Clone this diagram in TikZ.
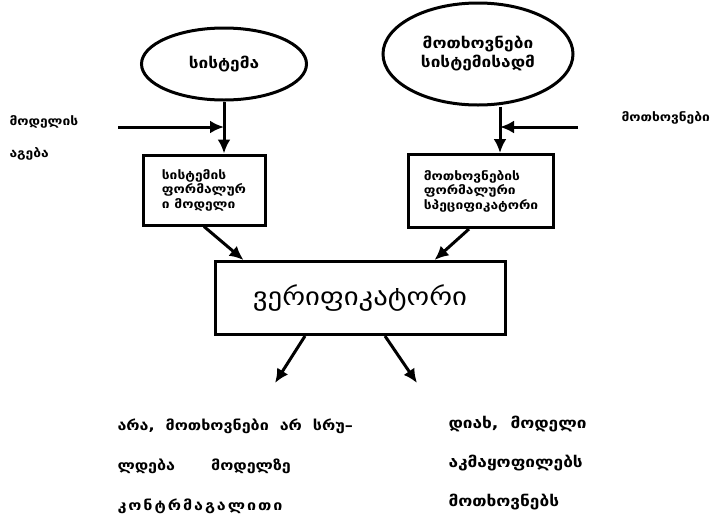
\documentclass[tikz,border=0pt]{standalone}
\usepackage{fontspec}
\setmainfont{DejaVu Sans}[FakeStretch=1.15]
\usetikzlibrary{arrows.meta,shapes.geometric,positioning}

\begin{document}
\begin{tikzpicture}[x=1pt,y=-1pt,->,>={Latex[length=14pt,width=13pt]},line width=3pt,
                    font=\bfseries\fontsize{12}{14.5}\selectfont]
  \tikzstyle{oval}=[ellipse,draw,line width=3pt,inner sep=0pt,
                    font=\bfseries\fontsize{15}{19}\selectfont]
  \tikzstyle{blk}=[rectangle,draw,line width=3pt,align=left,inner sep=0pt]
  \tikzstyle{txt}=[anchor=west,inner sep=0pt,align=left]

  \useasboundingbox (0,0) rectangle (716,515);

  \node[oval,minimum width=165pt,minimum height=72pt] (sys) at (224,64) {სისტემა};
  \node[oval,minimum width=190pt,minimum height=102pt,align=center] (req) at (478,54)
        {მოთხოვნები\\სისტემისადმ};

  \node[blk,minimum width=122pt,minimum height=70pt] (fmodel) at (204,190)
        {სისტემის\\ფორმალურ\\ი მოდელი};
  \node[blk,minimum width=145pt,minimum height=73pt] (fspec) at (481,191)
        {მოთხოვნების\\ფორმალური\\სპეციფიკატორი};

  \node[blk,minimum width=290pt,minimum height=73pt,
        font=\mdseries\fontsize{25}{30}\selectfont] (verif) at (360,298) {ვერიფიკატორი};

  \node[txt] (lmodel) at (8,138) {მოდელის\\[17pt]აგება};
  \node[txt] (rreq) at (620,118) {მოთხოვნები};

  \node[txt,font=\bfseries\fontsize{14}{40}\selectfont] (no) at (116,466)
        {არა,\hspace{11pt}მოთხოვნები\hspace{11pt}არ\hspace{11pt}სრუ–\\
         ლდება\hspace{36pt}მოდელზე\\
         \addfontfeature{LetterSpace=14}კონტრმაგალითი};
  \node[txt,font=\bfseries\fontsize{15}{39}\selectfont] (yes) at (447,463)
        {დიახ,\ \ მოდელი\\აკმაყოფილებს\\მოთხოვნებს};

  \coordinate (lin) at (118,127);
  \coordinate (ljoin) at (sys.south |- lin);
  \coordinate (rin) at (578,127);
  \coordinate (rjoin) at (500,127);
  \coordinate (noend) at (275,383);
  \coordinate (yesend) at (417,383);

  \draw (sys.south) -- (fmodel.north -| sys.south);
  \draw (lin) -- (ljoin);
  \draw (rjoin |- req.south) -- (rjoin |- fspec.north);
  \draw (rin) -- (rjoin);

  \draw (fmodel.south) -- ([xshift=30pt]verif.north west);
  \draw ([xshift=-12pt]fspec.south) -- ([xshift=-72pt]verif.north east);
  \draw ([xshift=-55pt]verif.south) -- (noend);
  \draw ([xshift=25pt]verif.south) -- (yesend);
\end{tikzpicture}
\end{document}
